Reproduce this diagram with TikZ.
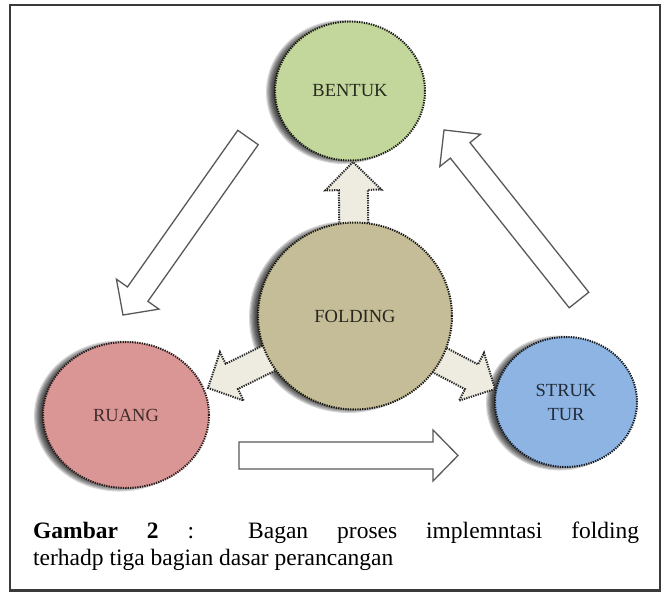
\documentclass[tikz,border=0pt]{standalone}
\usepackage{fontspec}
\setmainfont{Liberation Serif}
\usetikzlibrary{shapes.geometric,calc}
\definecolor{cbent}{HTML}{C3D69B}
\definecolor{cfold}{HTML}{C4BD97}
\definecolor{cruan}{HTML}{D99694}
\definecolor{cstru}{HTML}{8EB4E3}
\definecolor{carrow}{HTML}{EEECE1}
\definecolor{cframe}{HTML}{3A3A3A}
\newcommand\blockarrow[6]{%
  \coordinate (#2-#3-h) at ($(#3)!#6!(#2)$);
  \draw[#1] ($(#2)!#4!90:(#3)$) -- ($(#2-#3-h)!#4!90:(#3)$) -- ($(#2-#3-h)!#5!90:(#3)$) -- (#3)
    -- ($(#2-#3-h)!#5!-90:(#3)$) -- ($(#2-#3-h)!#4!-90:(#3)$) -- ($(#2)!#4!-90:(#3)$) -- cycle;}
\newcommand\softshadow[4]{%
  \foreach \k in {0,...,6}{\fill[black,opacity=0.17] ({#1-6.5},{#2+1}) ellipse ({#3+2.5-\k*1.2} and {#4+2.5-\k*1.2});}}
\begin{document}
\begin{tikzpicture}[x=1pt,y=-1pt,
  circ/.style={ellipse, inner sep=0pt, line width=2pt, dash pattern=on 1.3pt off 1.1pt,
    font=\fontsize{18.5}{24}\selectfont, align=center},
  hollow/.style={draw=black!65, fill=white, line width=1.3pt, line join=miter},
  solidarr/.style={draw=black!85, fill=carrow, line width=2pt, dash pattern=on 1.3pt off 1.1pt}]
\useasboundingbox (0,0) rectangle (664,592);
\fill[white] (0,0) rectangle (664,592);
\draw[cframe, line width=2.5pt] (10,5) rectangle (660,590.5);
% coordinates for arrows
\coordinate (fc) at (355,316);
\coordinate (tipB) at (353,162);
\coordinate (tipR) at (208,388);
\coordinate (tipS) at (495,389);
\coordinate (aTail) at (248,137.5);
\coordinate (aTip) at (123,315);
\coordinate (bTail) at (579,300);
\coordinate (bTip) at (444,130);
\coordinate (cTail) at (239,455.5);
\coordinate (cTip) at (458,455.5);
% hollow arrows
\blockarrow{hollow}{aTail}{aTip}{12.5pt}{26pt}{25.5pt}
\blockarrow{hollow}{bTail}{bTip}{12.5pt}{26pt}{26pt}
\blockarrow{hollow}{cTail}{cTip}{13.5pt}{25.5pt}{25pt}
% shadows
\softshadow{350}{91}{75}{69.5}
\softshadow{355}{316}{97}{93.5}
\softshadow{126}{415}{83}{73}
\softshadow{566}{402}{71}{65}
% small arrows from folding
\blockarrow{solidarr}{fc}{tipB}{14.5pt}{28pt}{28pt}
\blockarrow{solidarr}{fc}{tipR}{14pt}{27pt}{26.5pt}
\blockarrow{solidarr}{fc}{tipS}{14pt}{27pt}{26.5pt}
% circles
\node[circ, fill=cbent, draw=cbent!12!black, text=cbent!20!black, minimum width=150pt, minimum height=139pt] (bentuk) at (350,91) {BENTUK};
\node[circ, fill=cfold, draw=cfold!12!black, text=cfold!20!black, minimum width=194pt, minimum height=187pt] (folding) at (fc) {FOLDING};
\node[circ, fill=cruan, draw=cruan!18!black, text=cruan!30!black, minimum width=166pt, minimum height=146pt] (ruang) at (126,415) {RUANG};
\node[circ, fill=cstru, draw=cstru!15!black, text=cstru!24!black, minimum width=142pt, minimum height=130pt] (struktur) at (566,402) {STRUK\\TUR};
% caption
\node[anchor=base west, inner sep=0pt] (caption) at (33,538) {\parbox[t]{606pt}{\fontsize{23.5}{27.5}\selectfont\textbf{Gambar 2} : Bagan proses implemntasi folding\linebreak terhadp tiga bagian dasar perancangan}};
\end{tikzpicture}
\end{document}
